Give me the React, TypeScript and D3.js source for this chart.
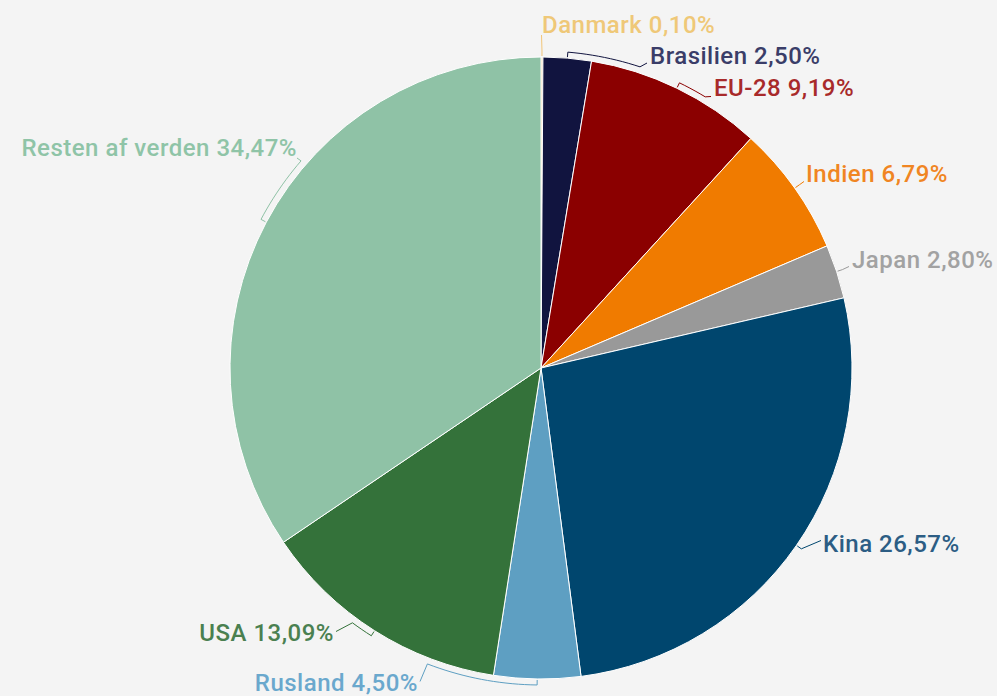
import React from "react";
import * as d3 from "d3";

const countries = ["Danmark", "Brasilien", "EU-28", "Indien", "Japan", "Kina", "Rusland", "USA", "Resten af verden"];
const shares = [0.10, 2.50, 9.19, 6.79, 2.80, 26.57, 4.50, 13.09, 34.47];
const sliceColors = ["#f2c679", "#11143f", "#8b0000", "#f07b00", "#999999", "#00466e", "#5e9fc2", "#34723a", "#8fc2a6"];
const labelColors = ["#efc878", "#3a3d68", "#a82a2a", "#f08522", "#a2a2a2", "#2c5d84", "#6aa8cd", "#4a8050", "#8fc4a7"];

// label layout: text x, text baseline, anchor, connector end x, end y, connector break angle (deg, null = slice middle)
type Lay = [number, number, "start" | "end", number, number, number | null];
const labelLayout: Lay[] = [
  [542, 33, "start", 541.5, 35, null],
  [650, 64, "start", 647, 63, 18.2],
  [714, 96, "start", 711, 96.5, 31.2],
  [806, 181.5, "start", 804, 181.5, null],
  [852, 268, "start", 849, 266.5, null],
  [823, 552, "start", 821, 540.5, null],
  [418, 691, "end", 420, 681.5, 201],
  [334, 640.5, "end", 336, 631.5, 216.5],
  [297, 155.5, "end", 297, 158, 310.8],
];

const W = 997, H = 696;
const cx = 541, cy = 368, R = 311;

export default function App() {
  const data = countries.map((c, i) => ({ c, v: shares[i], i }));
  const pie = d3.pie<any>().value((d) => d.v).sort(null);
  const arcs = pie(data);
  const arc = d3.arc<any>().innerRadius(0).outerRadius(R);
  const fmt = (v: number) => v.toFixed(2).replace(".", ",") + "%";
  const polar = (a: number, r: number): [number, number] => [cx + r * Math.sin(a), cy - r * Math.cos(a)];

  return (
    <svg width={W} height={H} style={{ position: "absolute", left: 0, top: 0, background: "#f4f4f4" }}>
      <rect x={0} y={0} width={W} height={H} fill="#f4f4f4" />
      <g transform={`translate(${cx},${cy})`}>
        {arcs.map((a, i) => (
          <path key={i} d={arc(a) as string} fill={sliceColors[i]} stroke="#ffffff" strokeWidth={1} strokeLinejoin="round" />
        ))}
      </g>
      {arcs.map((a, i) => {
        const mid = (a.startAngle + a.endAngle) / 2;
        const [, , , ex, ey, brkDeg] = labelLayout[i];
        const pts: [number, number][] = [polar(mid, R + 1)];
        const rc = R + 6;
        const brk = brkDeg === null ? mid : (brkDeg * Math.PI) / 180;
        const steps = Math.max(1, Math.ceil(Math.abs(brk - mid) / 0.02));
        for (let s = 0; s <= steps; s++) {
          pts.push(polar(mid + ((brk - mid) * s) / steps, rc));
        }
        pts.push([ex, ey]);
        const line = d3.line()(pts) as string;
        return <path key={"c" + i} d={line} fill="none" stroke={sliceColors[i]} strokeWidth={1} strokeLinejoin="round" />;
      })}
      {arcs.map((a, i) => {
        const [lx, ly, anchor] = labelLayout[i];
        return (
          <text key={"t" + i} x={lx} y={ly} textAnchor={anchor}
            fontFamily="Roboto, sans-serif" fontSize={24} fontWeight={500} letterSpacing={0.5} fill={labelColors[i]}>
            {countries[i]} {fmt(shares[i])}
          </text>
        );
      })}
    </svg>
  );
}
